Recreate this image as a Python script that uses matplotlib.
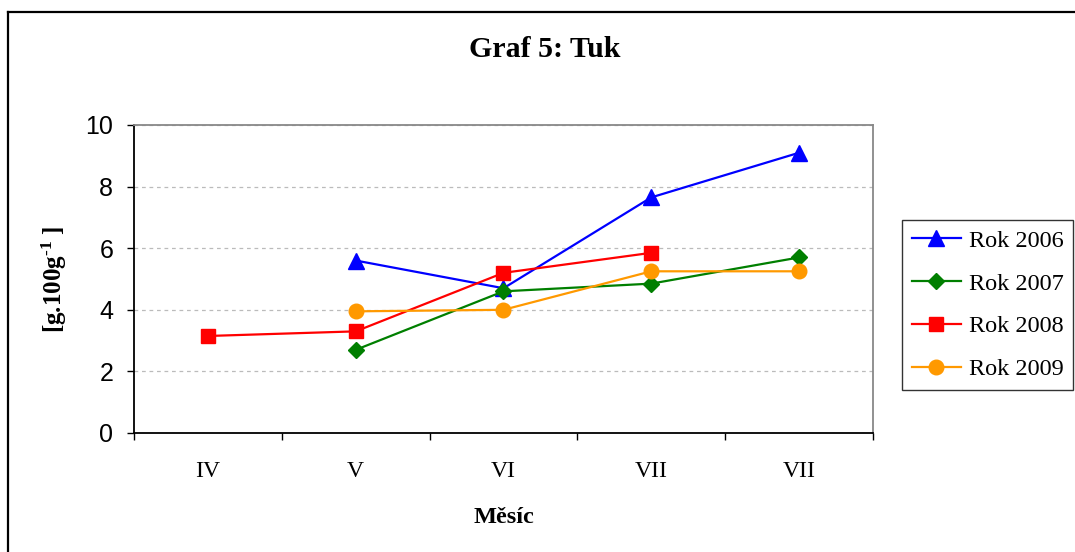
import matplotlib
matplotlib.use("Agg")
from matplotlib import pyplot as plt
from matplotlib.lines import Line2D

months = ["IV", "V", "VI", "VII", "VII"]
rok_2006 = [None, 5.6, 4.7, 7.65, 9.1]
rok_2007 = [None, 2.7, 4.6, 4.85, 5.7]
rok_2008 = [3.15, 3.3, 5.2, 5.85, None]
rok_2009 = [None, 3.95, 4.0, 5.25, 5.25]

series = [
    ("Rok 2006", rok_2006, "#0000FF", "^", 11),
    ("Rok 2007", rok_2007, "#007F00", "D", 8),
    ("Rok 2008", rok_2008, "#FF0000", "s", 10),
    ("Rok 2009", rok_2009, "#FF9900", "o", 10.5),
]

serif = "Liberation Serif"
sans = "Liberation Sans"

plt.rcParams["mathtext.fontset"] = "custom"
plt.rcParams["mathtext.rm"] = serif + ":bold"
plt.rcParams["mathtext.it"] = serif + ":bold"
plt.rcParams["mathtext.bf"] = serif + ":bold"

fig = plt.figure(figsize=(10.75, 5.52), dpi=100)
ax = fig.add_axes([134 / 1075, 1 - 433 / 552, (873 - 134) / 1075, (433 - 125) / 552])

for name, vals, color, marker, ms in series:
    xs = [i for i, v in enumerate(vals) if v is not None]
    ys = [v for v in vals if v is not None]
    ax.plot(xs, ys, color=color, marker=marker, markersize=ms, linewidth=1.6,
            markeredgecolor=color, label=name, zorder=3)

ax.set_xlim(-0.5, len(months) - 0.5)
ax.set_ylim(0, 10)
ax.set_yticks(range(0, 11, 2))
ax.set_yticklabels([str(v) for v in range(0, 11, 2)], fontfamily=sans, fontsize=18)
ax.set_xticks(range(len(months)))
ax.set_xticklabels(months, fontfamily=serif, fontsize=17)
ax.tick_params(axis="x", length=0, pad=20)
ax.set_xticks([i - 0.5 for i in range(len(months) + 1)], minor=True)
ax.tick_params(axis="x", which="minor", length=5, width=1, direction="out", color="black")
ax.tick_params(axis="y", length=5, width=1, direction="out", pad=10)

ax.yaxis.grid(True, linestyle=(0, (3, 3)), color="#BBBBBB", linewidth=0.9)
ax.set_axisbelow(True)
for side in ("left", "bottom"):
    ax.spines[side].set_color("black")
    ax.spines[side].set_linewidth(1.3)
for side in ("top", "right"):
    ax.spines[side].set_color("#888888")
    ax.spines[side].set_linewidth(1.3)

ax.set_xlabel("Měsíc", fontfamily=serif, fontweight="bold", fontsize=17.5, labelpad=18)
ax.set_ylabel(r"[g.100g$^{\text{-1}}$ ]", fontfamily=serif, fontweight="bold",
              fontsize=18, labelpad=12)

fig.text(545 / 1075, 1 - 49 / 552, "Graf 5: Tuk", fontfamily=serif, fontweight="bold",
         fontsize=21.5, ha="center", va="center")

leg = fig.legend(loc="center", bbox_to_anchor=(987.5 / 1075, 1 - 305 / 552),
                 prop={"family": serif, "size": 17.5}, frameon=True, fancybox=False,
                 edgecolor="black", handlelength=2.05, labelspacing=0.85,
                 borderpad=0.4, handletextpad=0.3, borderaxespad=0)
leg.get_frame().set_linewidth(1.0)

# outer chart frame: top and left edges
fig.add_artist(Line2D([8 / 1075, 1], [1 - 12 / 552, 1 - 12 / 552], color="black", linewidth=1.6))
fig.add_artist(Line2D([8 / 1075, 8 / 1075], [0, 1 - 12 / 552], color="black", linewidth=1.6))

fig.savefig("out.png", dpi=100)
